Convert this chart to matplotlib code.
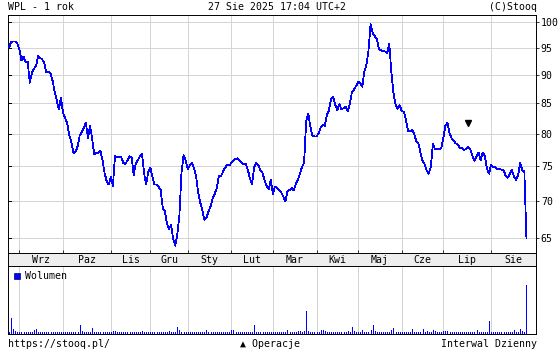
import numpy as np
import pandas as pd
import matplotlib
matplotlib.use("Agg")
import matplotlib.pyplot as plt
from matplotlib.ticker import NullLocator
from matplotlib.patches import Rectangle
import matplotlib.transforms as mtransforms

# ---------------- data ----------------
start_date = "2024-08-26"
end_date = "2025-08-27"
holidays = ["2024-11-01", "2024-11-11", "2024-12-24", "2024-12-25", "2024-12-26",
            "2024-12-31", "2025-01-01", "2025-01-06", "2025-04-18", "2025-04-21",
            "2025-05-01", "2025-06-19", "2025-08-15"]

close = [
    95.0, 96.1, 96.2, 96.2, 95.8, 94.7, 92.6, 93.3, 92.3, 92.3,
    88.6, 90.3, 91.1, 91.6, 93.5, 93.1, 92.8, 92.1, 90.4, 90.5,
    90.2, 88.9, 87.0, 85.5, 84.0, 86.0, 83.4, 82.6, 81.7, 79.8,
    78.7, 77.0, 77.2, 78.0, 79.7, 80.3, 81.0, 81.8, 79.3, 81.3,
    79.3, 76.8, 77.0, 77.0, 77.3, 75.9, 74.0, 72.8, 72.3, 73.4,
    72.1, 76.5, 76.3, 76.4, 76.4, 75.5, 75.3, 75.9, 76.5, 76.4,
    73.7, 75.4, 75.9, 76.5, 76.9, 74.0, 72.3, 74.1, 74.8, 73.5,
    72.3, 72.3, 72.0, 71.5, 69.0, 68.6, 66.9, 66.2, 66.7, 64.9,
    64.0, 65.5, 68.0, 74.0, 76.7, 75.9, 74.6, 75.1, 75.5, 74.7,
    73.6, 71.2, 69.8, 68.7, 67.4, 67.7, 68.5, 69.2, 70.3, 71.0,
    71.8, 73.6, 73.5, 74.2, 74.8, 75.2, 75.1, 75.5, 75.8, 76.1,
    76.2, 75.8, 75.5, 75.3, 75.3, 74.4, 73.1, 72.4, 74.9, 75.5,
    75.2, 74.4, 74.0, 72.9, 72.1, 71.6, 73.0, 71.0, 72.0, 71.8,
    71.5, 71.2, 70.6, 69.9, 71.4, 71.5, 71.8, 71.5, 72.4, 73.0,
    73.9, 74.9, 75.5, 82.0, 83.3, 81.2, 79.7, 79.6, 79.6, 80.1,
    81.0, 81.5, 81.3, 83.1, 83.9, 85.8, 86.2, 84.8, 83.9, 84.9,
    84.0, 84.2, 84.5, 83.7, 84.9, 86.9, 87.4, 88.0, 88.7, 88.6,
    87.9, 90.6, 91.8, 94.5, 99.6, 97.9, 97.2, 96.7, 94.8, 94.5,
    94.4, 94.3, 94.0, 95.7, 90.5, 86.8, 84.9, 84.1, 84.7, 83.7,
    83.6, 82.3, 80.5, 80.4, 80.7, 80.0, 78.8, 78.5, 77.1, 75.8,
    75.3, 74.4, 73.9, 74.9, 78.4, 77.6, 77.7, 77.6, 77.7, 79.3,
    81.3, 81.8, 80.1, 79.3, 78.9, 78.5, 78.3, 77.8, 77.8, 77.5,
    77.6, 77.9, 77.6, 76.6, 75.8, 76.5, 77.1, 75.9, 77.1, 76.6,
    74.6, 73.9, 75.2, 74.9, 74.9, 74.6, 74.6, 74.5, 74.4, 73.6,
    73.3, 73.9, 74.4, 73.5, 73.0, 73.7, 75.5, 74.4, 74.2, 65.0,
]

volume = [
    1.0, 15.0, 4.3, 2.3, 1.0, 1.0, 1.0, 1.0, 1.2, 1.0,
    1.0, 1.3, 3.0, 4.0, 1.2, 1.0, 1.0, 1.0, 1.0, 1.0,
    1.0, 1.0, 1.0, 1.3, 1.0, 1.0, 1.0, 1.0, 1.5, 1.0,
    1.2, 1.0, 1.0, 1.5, 8.3, 2.3, 1.5, 1.0, 1.0, 1.0,
    5.0, 1.0, 1.0, 1.0, 1.0, 1.0, 1.0, 1.0, 1.0, 1.0,
    2.3, 2.3, 1.3, 1.0, 1.0, 1.0, 1.0, 1.0, 1.0, 1.0,
    1.3, 1.0, 1.0, 1.0, 2.3, 1.0, 1.3, 1.0, 1.0, 1.0,
    1.0, 1.0, 1.0, 1.0, 1.3, 1.0, 1.3, 1.7, 1.0, 1.3,
    1.5, 6.0, 3.3, 1.5, 1.3, 1.0, 1.3, 1.0, 1.0, 1.0,
    1.0, 1.0, 1.0, 1.0, 1.0, 3.3, 1.0, 1.0, 1.0, 1.0,
    1.0, 1.0, 1.0, 1.0, 1.0, 1.0, 1.3, 3.3, 2.7, 1.0,
    1.0, 1.0, 1.0, 1.0, 1.0, 1.0, 1.3, 1.5, 8.3, 1.0,
    1.3, 1.0, 1.5, 1.0, 1.0, 1.0, 1.0, 1.0, 1.3, 1.0,
    1.0, 1.0, 1.0, 1.3, 3.0, 1.0, 1.0, 1.0, 1.3, 2.3,
    2.3, 1.5, 2.0, 21.7, 2.3, 1.3, 1.0, 1.0, 1.0, 1.0,
    3.3, 3.0, 2.0, 1.5, 1.3, 1.0, 1.0, 1.0, 1.0, 1.0,
    1.0, 1.0, 1.3, 2.3, 1.5, 6.0, 2.3, 1.0, 1.0, 1.0,
    3.3, 1.0, 1.0, 1.5, 3.3, 8.3, 2.3, 1.3, 1.0, 1.0,
    1.0, 1.0, 1.3, 1.5, 3.3, 5.0, 1.5, 1.3, 1.0, 1.0,
    1.3, 1.0, 1.0, 1.5, 4.0, 1.5, 1.0, 1.3, 1.5, 4.3,
    1.5, 2.0, 1.5, 1.3, 3.3, 2.0, 1.5, 1.3, 1.3, 2.3,
    2.3, 2.3, 1.3, 1.0, 1.0, 1.3, 1.0, 1.3, 1.5, 1.3,
    1.3, 1.3, 1.3, 1.3, 1.5, 3.3, 1.5, 1.3, 1.0, 1.3,
    1.5, 12.3, 1.5, 1.3, 1.0, 1.3, 1.0, 1.3, 1.3, 1.3,
    1.0, 1.3, 1.3, 3.3, 1.5, 1.3, 4.0, 2.0, 1.3, 48.3,
]

month_names = {9: "Wrz", 10: "Paz", 11: "Lis", 12: "Gru", 1: "Sty", 2: "Lut",
               3: "Mar", 4: "Kwi", 5: "Maj", 6: "Cze", 7: "Lip", 8: "Sie"}
price_ticks = [65, 70, 75, 80, 85, 90, 95, 100]
operation_index = 221
operation_level = 81.8

title_left = "WPL - 1 rok"
title_mid = "27 Sie 2025 17:04 UTC+2"
title_right = "(C)Stooq"
foot_left = "https://stooq.pl/"
foot_mid = "\u25B2 Operacje"
foot_right = "Interwal Dzienny"
legend_label = "Wolumen"

# ---------------- dates / index ----------------
dates = pd.bdate_range(start_date, end_date).difference(pd.to_datetime(holidays))
n = min(len(dates), len(close), len(volume))
dates = dates[:n]
x = np.arange(n)
close = np.array(close[:n])
volume = np.array(volume[:n])

month_starts = [i for i in range(1, n) if dates[i].month != dates[i - 1].month]

# ---------------- figure ----------------
W, H = 560, 350
fig = plt.figure(figsize=(W / 100, H / 100), dpi=100)
fig.patch.set_facecolor("white")

FONT = ["DejaVu Sans Mono", "DejaVu Sans"]
FS = 7.1
BLUE = "#0000ff"
GRID = "#d4d4d4"
THIN = 0.55

px_per_day = 2.078
x_left = -1.0 / px_per_day
x_right = (536 - 9) / px_per_day

def fx(px):
    return px / W

def fy(py):
    return 1 - py / H

ax = fig.add_axes([fx(8), fy(253), 528 / W, 238 / H])
band = fig.add_axes([fx(8), fy(266), 528 / W, 13 / H])
vax = fig.add_axes([fx(8), fy(334), 528 / W, 68 / H])

# main price chart
ax.set_yscale("log")
ax.set_ylim(63.08, 101.41)
ax.set_xlim(x_left, x_right)
for v in price_ticks:
    ax.axhline(v, color=GRID, lw=THIN, zorder=0, antialiased=False)
for m in month_starts:
    ax.axvline(m, color=GRID, lw=THIN, zorder=0, antialiased=False)
ax.plot(x, close, color=BLUE, lw=THIN, antialiased=False, zorder=3)
ax.plot([operation_index], [operation_level], marker="v", color="black",
        ms=4.5, ls="none", zorder=4)

ax.yaxis.set_minor_locator(NullLocator())
ax.xaxis.set_minor_locator(NullLocator())
ax.set_yticks(price_ticks)
ax.set_yticklabels([str(v) for v in price_ticks], fontsize=FS, family=FONT)
ax.yaxis.tick_right()
ax.tick_params(axis="y", direction="out", length=2.3, width=THIN, pad=1.2,
               left=False, right=True, colors="black")
ax.set_xticks(month_starts)
ax.tick_params(axis="x", direction="in", length=2.3, width=THIN,
               labelbottom=False, bottom=True, top=False)
trans = mtransforms.blended_transform_factory(ax.transAxes, ax.transData)
for v in price_ticks:
    ax.plot([0, 3 / 528], [v, v], transform=trans, color="black", lw=THIN,
            clip_on=False, antialiased=False, zorder=5)
for s in ax.spines.values():
    s.set_linewidth(0.7)
    s.set_color("black")

# month band
band.set_facecolor("#eeeeee")
band.set_xlim(x_left, x_right)
band.set_ylim(0, 1)
band.set_xticks([])
band.set_yticks([])
bounds = month_starts + [x_right]
for k, m in enumerate(month_starts):
    mid = (bounds[k] + bounds[k + 1]) / 2
    band.text(mid, 0.45, month_names[dates[m].month], ha="center", va="center",
              fontsize=FS, family=FONT)
for s in band.spines.values():
    s.set_linewidth(0.7)

# volume panel
vax.set_xlim(x_left, x_right)
vax.set_ylim(-0.8, 67)
for m in month_starts:
    vax.axvline(m, color=GRID, lw=THIN, zorder=0, antialiased=False)
vax.vlines(x, -0.8, volume, color=BLUE, lw=THIN, antialiased=False, zorder=3)
vax.set_xticks([])
vax.set_yticks([])
for s in vax.spines.values():
    s.set_linewidth(0.7)
vax.add_patch(Rectangle((6 / 528, 1 - 13.3 / 68), 6 / 528, 6.6 / 68,
                        transform=vax.transAxes, facecolor=BLUE,
                        edgecolor="#000066", lw=0.5, zorder=5))
vax.text(17 / 528, 1 - 10 / 68, legend_label, transform=vax.transAxes,
         ha="left", va="center", fontsize=FS, family=FONT)

# header / footer text
fig.text(fx(8), fy(7), title_left, ha="left", va="center", fontsize=FS, family=FONT)
fig.text(fx(277), fy(7), title_mid, ha="center", va="center", fontsize=FS, family=FONT)
fig.text(fx(537), fy(7), title_right, ha="right", va="center", fontsize=FS, family=FONT)
fig.text(fx(8), fy(344), foot_left, ha="left", va="center", fontsize=FS, family=FONT)
fig.text(fx(270), fy(344), foot_mid, ha="center", va="center", fontsize=FS, family=FONT)
fig.text(fx(537), fy(344), foot_right, ha="right", va="center", fontsize=FS, family=FONT)

fig.savefig("out.png", dpi=100, facecolor="white")
